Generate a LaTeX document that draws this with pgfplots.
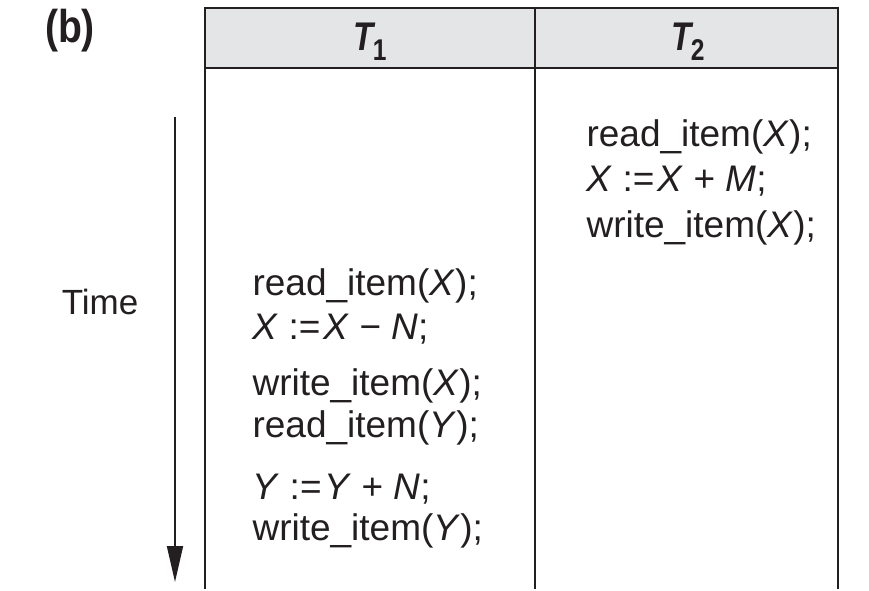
\documentclass[border=0pt]{standalone}
\usepackage{graphicx}
\usepackage{pgfplots}
\pgfplotsset{compat=1.18}
\usepackage{fontspec}
\setmainfont{Liberation Sans}
\usetikzlibrary{arrows.meta}
\definecolor{headgray}{HTML}{E4E5E7}
\definecolor{ink}{HTML}{231F20}
\newcommand{\body}{\fontsize{37}{44}\selectfont}
\newcommand{\hd}[1]{\scalebox{0.82}[1]{\fontsize{40}{44}\selectfont\bfseries\itshape T\kern-0.02em\raisebox{-0.25em}{\fontsize{30}{34}\selectfont\upshape #1}}}
\begin{document}
\begin{tikzpicture}
\begin{axis}[width=869pt,height=589pt,scale only axis,
  xmin=0,xmax=869,ymin=0,ymax=589,y dir=reverse,
  axis lines=none,ticks=none,clip=false]
\addplot[draw=none,fill=white] coordinates {(0,0)(869,0)(869,589)(0,589)(0,0)};
\addplot[draw=none,fill=headgray] coordinates {(205,8)(838,8)(838,68)(205,68)(205,8)};
\addplot[ink,line width=2pt] coordinates {(205,589)(205,8)(838,8)(838,589)};
\addplot[ink,line width=1.6pt] coordinates {(205,68)(838,68)};
\addplot[ink,line width=1.6pt] coordinates {(535,8)(535,589)};
\addplot[ink,line width=1.8pt,-{Triangle[length=36pt,width=16pt]}] coordinates {(175,117)(175,582)};
\node[anchor=center,text=ink] at (axis cs:70,31) {\scalebox{0.85}[1]{\fontsize{46}{50}\selectfont\bfseries (b)}};
\node[anchor=center,text=ink] at (axis cs:370,42) {\hd{1}};
\node[anchor=center,text=ink] at (axis cs:688,42) {\hd{2}};
\node[anchor=base,text=ink] at (axis cs:100,314) {\fontsize{35}{42}\selectfont Time};
% T2 column
\node[anchor=base west,text=ink] at (axis cs:583,146) {\body read\_item(\textit{X});};
\node[anchor=base west,text=ink] at (axis cs:583,191) {\body \textit{X} :=\kern0.08em\textit{X} + \textit{M};};
\node[anchor=base west,text=ink] at (axis cs:583,237) {\body write\_item(\textit{X});};
% T1 column
\node[anchor=base west,text=ink] at (axis cs:249,295) {\body read\_item(\textit{X});};
\node[anchor=base west,text=ink] at (axis cs:249,339) {\body \textit{X} :=\kern0.08em\textit{X} − \textit{N};};
\node[anchor=base west,text=ink] at (axis cs:249,395) {\body write\_item(\textit{X});};
\node[anchor=base west,text=ink] at (axis cs:249,437) {\body read\_item(\textit{Y});};
\node[anchor=base west,text=ink] at (axis cs:249,499) {\body \textit{Y} :=\kern0.08em\textit{Y} + \textit{N};};
\node[anchor=base west,text=ink] at (axis cs:249,540) {\body write\_item(\textit{Y});};
\end{axis}
\end{tikzpicture}
\end{document}
